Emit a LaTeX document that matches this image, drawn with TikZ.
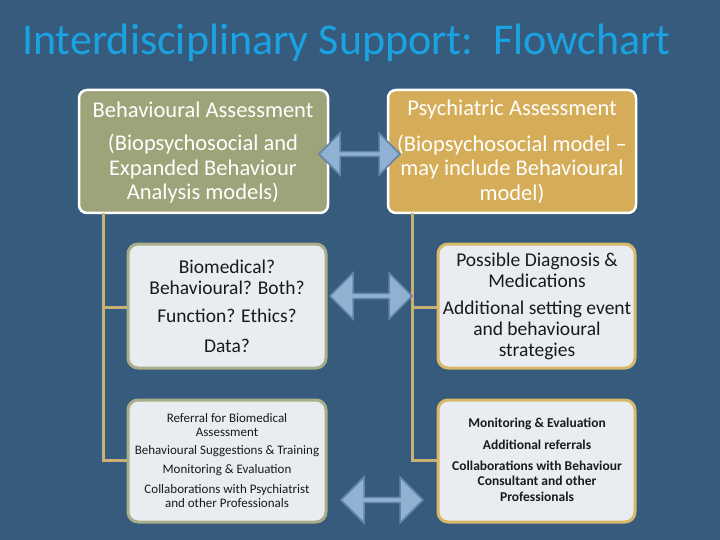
\documentclass[tikz,border=0pt]{standalone}
\usepackage{fontspec}
\setmainfont{Carlito}
\usetikzlibrary{shapes.arrows}
\definecolor{bg}{HTML}{365B7D}
\definecolor{titleblue}{HTML}{1AA2E2}
\definecolor{olive}{HTML}{9DA479}
\definecolor{gold}{HTML}{D5AC57}
\definecolor{pale}{HTML}{E9ECF1}
\definecolor{oliveedge}{HTML}{A9AE88}
\definecolor{goldedge}{HTML}{D9B868}
\definecolor{treeline}{HTML}{C9B173}
\definecolor{arrowfill}{HTML}{90B1D2}
\definecolor{arrowedge}{HTML}{6285AA}
\definecolor{darktext}{HTML}{1A1A1A}
\tikzset{
  topbox/.style={draw=white, line width=2.5pt, rounded corners=8pt},
  lowbox/.style={fill=pale, line width=3pt, rounded corners=10pt},
  treeedge/.style={draw=treeline, line width=3pt},
  dblarrow/.style={double arrow, fill=arrowfill, draw=arrowedge, line width=1.5pt,
     double arrow head extend=6pt, inner sep=0pt, minimum height=80pt, minimum width=30pt},
  toptext/.style={text=white, font=\fontsize{22.5}{24.5}\selectfont, align=center},
  midtext/.style={text=darktext, font=\fontsize{19.5}{21}\selectfont, align=center},
}
\begin{document}
\begin{tikzpicture}[x=1pt,y=-1pt]
\useasboundingbox (0,0) rectangle (720,540);
\fill[bg] (0,0) rectangle (720,540);
\node[anchor=base west, text=titleblue, font=\fontsize{44}{48}\selectfont, inner sep=0pt] (title) at (22,55) {Interdisciplinary Support:\ \ Flowchart};

% top boxes
\path[topbox, fill=olive] (79,90) rectangle (328,213);
\path[topbox, fill=gold] (388,90) rectangle (636,213);
\node[toptext] (t1a) at (203,110) {Behavioural Assessment};
\node[toptext, text=white] (t1b) at (203,169) {(Biopsychosocial and\\Expanded Behaviour\\Analysis models)};
\node[toptext] (t2a) at (512,110) {Psychiatric Assessment};
\node[toptext] (t2b) at (512,169) {(Biopsychosocial model –\\may include Behavioural\\model)};

% tree lines
\coordinate (l0) at (103,213);
\coordinate (l1) at (103,307);
\coordinate (l2) at (103,460);
\coordinate (r0) at (412,213);
\coordinate (r1) at (412,307);
\coordinate (r2) at (412,460);
\draw[treeedge] (l0) -- (l2) -- (127,460);
\draw[treeedge] (l1) -- (127,307);
\draw[treeedge] (r0) -- (r2) -- (437,460);
\draw[treeedge] (r1) -- (437,307);

% lower boxes
\path[lowbox, draw=oliveedge] (128,244) rectangle (326,368);
\path[lowbox, draw=goldedge] (438,244) rectangle (635,368);
\path[lowbox, draw=oliveedge] (128,400) rectangle (326,522);
\path[lowbox, draw=goldedge] (438,400) rectangle (635,522);

\node[midtext] (m1a) at (227,277) {Biomedical?\\Behavioural? Both?};
\node[midtext] (m1b) at (227,316) {Function? Ethics?};
\node[midtext] (m1c) at (227,346) {Data?};
\node[midtext] (m2a) at (537,270) {Possible Diagnosis \&\\Medications};
\node[midtext] (m2b) at (537,330) {Additional setting event\\and behavioural\\strategies};

\begin{scope}[every node/.style={text=darktext, font=\fontsize{13}{14.5}\selectfont, align=center}]
\node (n1a) at (227,425) {Referral for Biomedical\\Assessment};
\node (n1b) at (227,451) {Behavioural Suggestions \& Training};
\node (n1c) at (227,470) {Monitoring \& Evaluation};
\node (n1d) at (227,496) {Collaborations with Psychiatrist\\and other Professionals};
\end{scope}
\begin{scope}[every node/.style={text=darktext, font=\bfseries\fontsize{13.5}{15.5}\selectfont, align=center}]
\node (n2a) at (537,424) {Monitoring \& Evaluation};
\node (n2b) at (537,445) {Additional referrals};
\node (n2c) at (537,481) {Collaborations with Behaviour\\Consultant and other\\Professionals};
\end{scope}

% double arrows
\node[dblarrow, minimum height=81pt, minimum width=42pt] (a1) at (359.5,154) {};
\node[dblarrow, minimum height=82pt, minimum width=46pt] (a2) at (371,296) {};
\node[dblarrow, minimum height=82pt, minimum width=46pt] (a3) at (382,500) {};
\end{tikzpicture}
\end{document}
